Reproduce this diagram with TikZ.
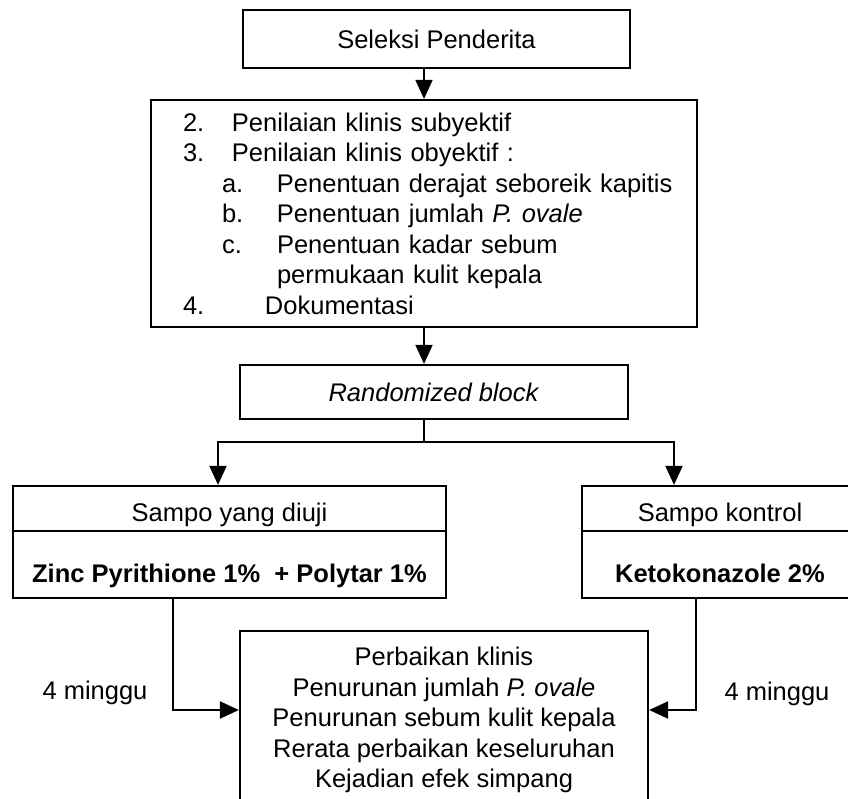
\documentclass[tikz,border=0pt]{standalone}
\usepackage{fontspec}
\setmainfont{Liberation Sans}
\usepackage{tikz}
\usetikzlibrary{arrows.meta}

\begin{document}
\begin{tikzpicture}[x=1pt, y=-1pt, font=\fontsize{25.5pt}{30.5pt}\selectfont]
			\tikzstyle{box} = [rectangle, draw=black, line width=2.2pt, inner sep=0pt]
			
			\tikzstyle{list} = [box, align=left, text width=546pt, minimum height=227pt]
			
			\tikzstyle{head} = [box, minimum width=433pt, text height=35pt, text depth=10pt, minimum height=45pt]
			
			\tikzstyle{body} = [box, minimum width=433pt, text height=51pt, text depth=16pt, minimum height=67pt, font=\fontsize{25.5pt}{30.5pt}\selectfont\bfseries]
			
			\tikzstyle{arrow} = [line width=2pt, -{Triangle[length=19pt,width=17pt]}]
			
			\useasboundingbox (0,0) rectangle (848,799);
			
			% Begining of the figure
			\node (seleksi) [box, minimum width=387pt, minimum height=58pt] at (436.5,39) {Seleksi Penderita};
			
			\node (nilai) [list, below of = seleksi, node distance=174.5pt, xshift=-12.5pt] {\hspace*{32pt}\makebox[49pt][l]{2.}Penilaian klinis subyektif\\
				\hspace*{32pt}\makebox[49pt][l]{3.}Penilaian klinis obyektif :\\
				\hspace*{71pt}\makebox[55pt][l]{a.}Penentuan derajat seboreik kapitis\\
				\hspace*{71pt}\makebox[55pt][l]{b.}Penentuan jumlah \textit{P. ovale}\\
				\hspace*{71pt}\makebox[55pt][l]{c.}Penentuan kadar sebum\\
				\hspace*{126pt}permukaan kulit kepala\\
				\hspace*{32pt}\makebox[82pt][l]{4.}Dokumentasi};
			
			\node (acak) [box, minimum width=388pt, minimum height=54pt, below of = nilai, node distance=178.5pt, xshift=10pt] {\textit{Randomized block}};
			
			% Level 2 nodes
			\node (ujiA) [head, below of = acak, node distance=116.5pt, xshift=-204.5pt] {Sampo yang diuji};
			\node (ujiB) [body, below of = ujiA, node distance=56pt] {Zinc Pyrithione 1\%\ \ + Polytar 1\%};
			
			\node (kontrolA) [head, minimum width=276pt, right of = ujiA, node distance=490.5pt] {Sampo kontrol};
			\node (kontrolB) [body, minimum width=276pt, below of = kontrolA, node distance=56pt] {Ketokonazole 2\%};
			
			\node (hasil) [box, align=center, minimum width=408pt, minimum height=178pt, below of = acak, node distance=328pt, xshift=10pt] {Perbaikan klinis\\
				Penurunan jumlah \textit{P. ovale}\\
				Penurunan sebum kulit kepala\\
				Rerata perbaikan keseluruhan\\
				Kejadian efek simpang};
			
			\node (mingguL) at (95,693) {4 minggu};
			\node (mingguR) at (777,694) {4 minggu};
			
			% Arrows
			\draw [arrow] (seleksi.south -| nilai.north) -- (nilai.north);
			\draw [arrow] (nilai.south) -- (nilai.south |- acak.north);
			\draw [line width=2pt] (acak.south -| nilai.south) -- ++(0,22) coordinate (split);
			\draw [arrow] (split) -| ([xshift=-11.5pt]ujiA.north);
			\draw [arrow] (split) -| ([xshift=-46pt]kontrolA.north);
			\draw [arrow] ([xshift=-56.5pt]ujiB.south) |- ([yshift=10pt]hasil.west);
			\draw [arrow] ([xshift=-24pt]kontrolB.south) |- ([yshift=10pt]hasil.east);
\end{tikzpicture}
\end{document}
